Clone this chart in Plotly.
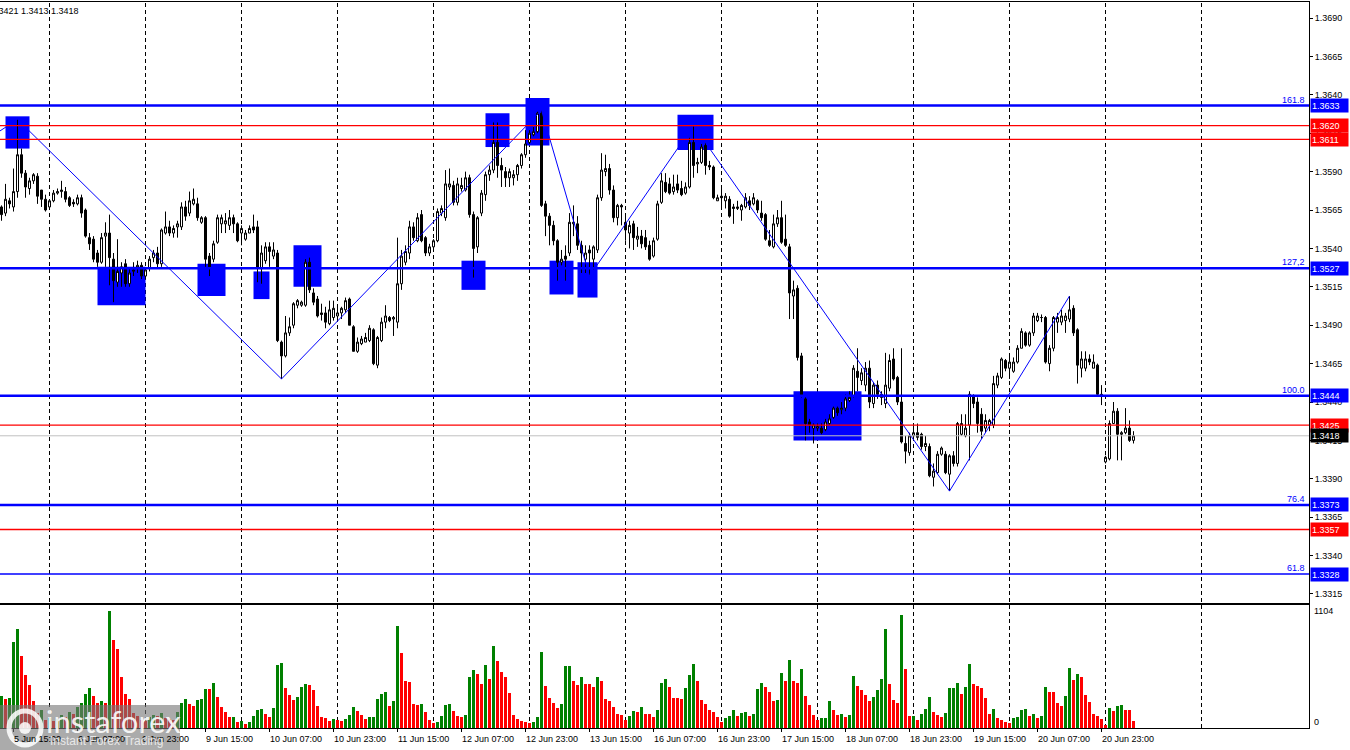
"""
GBPUSD H1 chart in MetaTrader style: candles, zigzag, Fibonacci levels,
support/resistance zones and a volumes sub-window.
"""

import plotly.graph_objects as go

# ---- H1 bars, 5 Jun 12:00 .. 23 Jun 07:00 (bar index 0..283) ----
opens = [
    1.3567, 1.3563, 1.3571, 1.3567, 1.3577, 1.3601, 1.3589, 1.3579, 1.3584, 1.3587,
    1.3578, 1.3572, 1.3567, 1.3571, 1.3576, 1.3577, 1.3577, 1.3573, 1.3570, 1.3569,
    1.3573, 1.3565, 1.3547, 1.3546, 1.3537, 1.3531, 1.3548, 1.3550, 1.3533, 1.3518,
    1.3524, 1.3530, 1.3517, 1.3525, 1.3527, 1.3529, 1.3522, 1.3527, 1.3534, 1.3537,
    1.3530, 1.3550, 1.3554, 1.3550, 1.3554, 1.3554, 1.3567, 1.3563, 1.3569, 1.3569,
    1.3557, 1.3560, 1.3535, 1.3533, 1.3544, 1.3556, 1.3556, 1.3555, 1.3560, 1.3556,
    1.3550, 1.3546, 1.3550, 1.3554, 1.3554, 1.3527, 1.3532, 1.3541, 1.3535, 1.3537,
    1.3479, 1.3470, 1.3485, 1.3490, 1.3503, 1.3503, 1.3503, 1.3531, 1.3511, 1.3507,
    1.3498, 1.3498, 1.3491, 1.3495, 1.3496, 1.3498, 1.3500, 1.3507, 1.3489, 1.3473,
    1.3478, 1.3479, 1.3480, 1.3487, 1.3464, 1.3480, 1.3492, 1.3495, 1.3494, 1.3492,
    1.3517, 1.3531, 1.3537, 1.3554, 1.3545, 1.3562, 1.3547, 1.3537, 1.3541, 1.3545,
    1.3563, 1.3560, 1.3580, 1.3581, 1.3570, 1.3579, 1.3578, 1.3586, 1.3562, 1.3541,
    1.3563, 1.3575, 1.3588, 1.3591, 1.3609, 1.3594, 1.3590, 1.3586, 1.3586, 1.3588,
    1.3594, 1.3601, 1.3609, 1.3614, 1.3616, 1.3628, 1.3569, 1.3561, 1.3555, 1.3545,
    1.3531, 1.3535, 1.3537, 1.3556, 1.3556, 1.3542, 1.3533, 1.3539, 1.3533, 1.3539,
    1.3573, 1.3590, 1.3592, 1.3578, 1.3560, 1.3568, 1.3557, 1.3550, 1.3556, 1.3546,
    1.3548, 1.3547, 1.3542, 1.3535, 1.3546, 1.3570, 1.3583, 1.3582, 1.3577, 1.3582,
    1.3579, 1.3576, 1.3580, 1.3609, 1.3595, 1.3596, 1.3607, 1.3594, 1.3593, 1.3571,
    1.3574, 1.3571, 1.3572, 1.3567, 1.3566, 1.3565, 1.3567, 1.3571, 1.3569, 1.3571,
    1.3563, 1.3562, 1.3545, 1.3541, 1.3556, 1.3560, 1.3546, 1.3541, 1.3509, 1.3514,
    1.3470, 1.3442, 1.3427, 1.3423, 1.3423, 1.3423, 1.3422, 1.3426, 1.3430, 1.3436,
    1.3435, 1.3436, 1.3441, 1.3444, 1.3460, 1.3454, 1.3451, 1.3462, 1.3439, 1.3451,
    1.3445, 1.3439, 1.3449, 1.3468, 1.3456, 1.3440, 1.3413, 1.3407, 1.3418, 1.3420,
    1.3419, 1.3411, 1.3411, 1.3391, 1.3394, 1.3406, 1.3406, 1.3393, 1.3405, 1.3400,
    1.3419, 1.3418, 1.3425, 1.3444, 1.3440, 1.3432, 1.3423, 1.3425, 1.3425, 1.3451,
    1.3456, 1.3467, 1.3462, 1.3460, 1.3466, 1.3475, 1.3485, 1.3477, 1.3485, 1.3493,
    1.3495, 1.3495, 1.3465, 1.3475, 1.3492, 1.3492, 1.3493, 1.3494, 1.3501, 1.3487,
    1.3462, 1.3462, 1.3468, 1.3462, 1.3464, 1.3444, 1.3401, 1.3403, 1.3426, 1.3434,
    1.3419, 1.3420, 1.3423, 1.3415,
]
highs = [
    1.3568, 1.3582, 1.3573, 1.3592, 1.3624, 1.3605, 1.3591, 1.3586, 1.3589, 1.3589,
    1.3578, 1.3575, 1.3571, 1.3578, 1.3579, 1.3584, 1.3580, 1.3574, 1.3572, 1.3575,
    1.3575, 1.3566, 1.3550, 1.3548, 1.3539, 1.3550, 1.3557, 1.3562, 1.3537, 1.3546,
    1.3531, 1.3533, 1.3527, 1.3531, 1.3532, 1.3531, 1.3527, 1.3535, 1.3539, 1.3541,
    1.3553, 1.3564, 1.3558, 1.3555, 1.3558, 1.3570, 1.3571, 1.3577, 1.3579, 1.3573,
    1.3561, 1.3561, 1.3537, 1.3545, 1.3562, 1.3562, 1.3563, 1.3565, 1.3562, 1.3557,
    1.3555, 1.3552, 1.3555, 1.3562, 1.3558, 1.3542, 1.3544, 1.3544, 1.3544, 1.3539,
    1.3480, 1.3496, 1.3495, 1.3505, 1.3507, 1.3506, 1.3533, 1.3534, 1.3514, 1.3509,
    1.3504, 1.3502, 1.3506, 1.3506, 1.3503, 1.3502, 1.3508, 1.3508, 1.3490, 1.3482,
    1.3483, 1.3485, 1.3490, 1.3488, 1.3483, 1.3495, 1.3503, 1.3496, 1.3496, 1.3547,
    1.3539, 1.3542, 1.3558, 1.3557, 1.3563, 1.3565, 1.3548, 1.3543, 1.3546, 1.3566,
    1.3568, 1.3591, 1.3592, 1.3584, 1.3586, 1.3586, 1.3590, 1.3588, 1.3564, 1.3561,
    1.3578, 1.3590, 1.3594, 1.3622, 1.3622, 1.3599, 1.3593, 1.3592, 1.3591, 1.3595,
    1.3602, 1.3617, 1.3617, 1.3619, 1.3629, 1.3630, 1.3571, 1.3563, 1.3558, 1.3546,
    1.3539, 1.3542, 1.3563, 1.3568, 1.3561, 1.3545, 1.3542, 1.3542, 1.3542, 1.3575,
    1.3602, 1.3601, 1.3595, 1.3581, 1.3569, 1.3569, 1.3561, 1.3558, 1.3558, 1.3554,
    1.3552, 1.3552, 1.3545, 1.3547, 1.3571, 1.3589, 1.3589, 1.3586, 1.3588, 1.3588,
    1.3584, 1.3583, 1.3612, 1.3620, 1.3599, 1.3608, 1.3609, 1.3597, 1.3594, 1.3575,
    1.3579, 1.3576, 1.3574, 1.3569, 1.3571, 1.3569, 1.3576, 1.3574, 1.3576, 1.3572,
    1.3571, 1.3563, 1.3552, 1.3562, 1.3565, 1.3571, 1.3562, 1.3543, 1.3519, 1.3516,
    1.3472, 1.3443, 1.3429, 1.3426, 1.3426, 1.3426, 1.3429, 1.3432, 1.3437, 1.3437,
    1.3440, 1.3445, 1.3447, 1.3464, 1.3475, 1.3462, 1.3466, 1.3467, 1.3453, 1.3454,
    1.3447, 1.3472, 1.3471, 1.3475, 1.3457, 1.3475, 1.3418, 1.3420, 1.3426, 1.3426,
    1.3420, 1.3418, 1.3413, 1.3400, 1.3408, 1.3411, 1.3408, 1.3406, 1.3408, 1.3427,
    1.3432, 1.3432, 1.3447, 1.3445, 1.3443, 1.3436, 1.3432, 1.3429, 1.3457, 1.3459,
    1.3469, 1.3468, 1.3470, 1.3469, 1.3477, 1.3488, 1.3486, 1.3486, 1.3498, 1.3498,
    1.3497, 1.3496, 1.3477, 1.3496, 1.3498, 1.3500, 1.3498, 1.3509, 1.3503, 1.3488,
    1.3473, 1.3473, 1.3471, 1.3471, 1.3465, 1.3451, 1.3405, 1.3428, 1.3440, 1.3436,
    1.3421, 1.3436, 1.3428, 1.3421,
]
lows = [
    1.3558, 1.3561, 1.3566, 1.3564, 1.3573, 1.3586, 1.3573, 1.3575, 1.3582, 1.3569,
    1.3567, 1.3564, 1.3565, 1.3570, 1.3575, 1.3573, 1.3570, 1.3567, 1.3567, 1.3568,
    1.3560, 1.3547, 1.3539, 1.3531, 1.3528, 1.3530, 1.3528, 1.3516, 1.3505, 1.3515,
    1.3515, 1.3515, 1.3515, 1.3522, 1.3524, 1.3520, 1.3520, 1.3525, 1.3531, 1.3527,
    1.3528, 1.3549, 1.3548, 1.3547, 1.3547, 1.3552, 1.3558, 1.3561, 1.3568, 1.3558,
    1.3556, 1.3528, 1.3522, 1.3531, 1.3543, 1.3550, 1.3550, 1.3552, 1.3550, 1.3544,
    1.3542, 1.3545, 1.3550, 1.3550, 1.3518, 1.3517, 1.3530, 1.3528, 1.3533, 1.3479,
    1.3455, 1.3469, 1.3483, 1.3488, 1.3501, 1.3502, 1.3502, 1.3511, 1.3503, 1.3495,
    1.3493, 1.3488, 1.3490, 1.3493, 1.3494, 1.3494, 1.3498, 1.3490, 1.3473, 1.3472,
    1.3477, 1.3479, 1.3479, 1.3464, 1.3462, 1.3479, 1.3488, 1.3492, 1.3483, 1.3488,
    1.3513, 1.3529, 1.3533, 1.3545, 1.3544, 1.3544, 1.3535, 1.3535, 1.3539, 1.3544,
    1.3561, 1.3558, 1.3578, 1.3568, 1.3568, 1.3577, 1.3577, 1.3560, 1.3521, 1.3537,
    1.3561, 1.3571, 1.3584, 1.3589, 1.3586, 1.3580, 1.3580, 1.3580, 1.3581, 1.3584,
    1.3592, 1.3599, 1.3608, 1.3613, 1.3615, 1.3567, 1.3548, 1.3542, 1.3542, 1.3519,
    1.3529, 1.3519, 1.3535, 1.3548, 1.3539, 1.3524, 1.3524, 1.3522, 1.3526, 1.3537,
    1.3571, 1.3587, 1.3575, 1.3557, 1.3555, 1.3555, 1.3545, 1.3540, 1.3539, 1.3541,
    1.3540, 1.3539, 1.3532, 1.3534, 1.3545, 1.3569, 1.3576, 1.3575, 1.3575, 1.3576,
    1.3574, 1.3575, 1.3579, 1.3586, 1.3589, 1.3595, 1.3588, 1.3591, 1.3572, 1.3571,
    1.3567, 1.3566, 1.3560, 1.3556, 1.3565, 1.3558, 1.3566, 1.3565, 1.3568, 1.3563,
    1.3558, 1.3545, 1.3541, 1.3540, 1.3554, 1.3543, 1.3541, 1.3494, 1.3494, 1.3467,
    1.3443, 1.3415, 1.3420, 1.3413, 1.3421, 1.3419, 1.3421, 1.3425, 1.3429, 1.3431,
    1.3432, 1.3434, 1.3440, 1.3443, 1.3447, 1.3451, 1.3447, 1.3436, 1.3436, 1.3442,
    1.3438, 1.3436, 1.3447, 1.3454, 1.3438, 1.3413, 1.3400, 1.3405, 1.3415, 1.3415,
    1.3409, 1.3408, 1.3391, 1.3385, 1.3393, 1.3405, 1.3393, 1.3382, 1.3398, 1.3398,
    1.3418, 1.3417, 1.3402, 1.3436, 1.3420, 1.3416, 1.3420, 1.3421, 1.3423, 1.3449,
    1.3455, 1.3460, 1.3455, 1.3459, 1.3465, 1.3475, 1.3476, 1.3476, 1.3483, 1.3492,
    1.3492, 1.3465, 1.3460, 1.3473, 1.3485, 1.3490, 1.3485, 1.3492, 1.3483, 1.3452,
    1.3456, 1.3460, 1.3464, 1.3462, 1.3444, 1.3438, 1.3400, 1.3402, 1.3426, 1.3402,
    1.3402, 1.3419, 1.3414, 1.3413,
]
closes = [
    1.3562, 1.3572, 1.3569, 1.3577, 1.3601, 1.3589, 1.3580, 1.3584, 1.3588, 1.3574,
    1.3572, 1.3565, 1.3571, 1.3576, 1.3577, 1.3578, 1.3572, 1.3568, 1.3569, 1.3573,
    1.3563, 1.3548, 1.3543, 1.3533, 1.3531, 1.3547, 1.3550, 1.3534, 1.3519, 1.3525,
    1.3528, 1.3517, 1.3524, 1.3526, 1.3529, 1.3522, 1.3526, 1.3533, 1.3537, 1.3530,
    1.3552, 1.3554, 1.3550, 1.3553, 1.3556, 1.3567, 1.3561, 1.3571, 1.3572, 1.3560,
    1.3560, 1.3533, 1.3528, 1.3543, 1.3560, 1.3560, 1.3558, 1.3560, 1.3556, 1.3545,
    1.3553, 1.3550, 1.3553, 1.3552, 1.3527, 1.3537, 1.3541, 1.3538, 1.3539, 1.3480,
    1.3470, 1.3485, 1.3489, 1.3504, 1.3506, 1.3505, 1.3531, 1.3513, 1.3505, 1.3496,
    1.3497, 1.3492, 1.3500, 1.3501, 1.3498, 1.3501, 1.3506, 1.3490, 1.3473, 1.3479,
    1.3481, 1.3482, 1.3488, 1.3465, 1.3482, 1.3492, 1.3496, 1.3493, 1.3495, 1.3517,
    1.3535, 1.3538, 1.3554, 1.3547, 1.3560, 1.3545, 1.3537, 1.3541, 1.3545, 1.3564,
    1.3566, 1.3582, 1.3582, 1.3570, 1.3582, 1.3581, 1.3586, 1.3562, 1.3540, 1.3560,
    1.3576, 1.3588, 1.3591, 1.3609, 1.3594, 1.3591, 1.3586, 1.3590, 1.3588, 1.3594,
    1.3601, 1.3608, 1.3615, 1.3616, 1.3628, 1.3568, 1.3561, 1.3555, 1.3545, 1.3531,
    1.3533, 1.3533, 1.3557, 1.3557, 1.3542, 1.3537, 1.3537, 1.3537, 1.3541, 1.3573,
    1.3591, 1.3592, 1.3578, 1.3560, 1.3568, 1.3567, 1.3552, 1.3555, 1.3547, 1.3548,
    1.3543, 1.3541, 1.3533, 1.3545, 1.3569, 1.3584, 1.3577, 1.3576, 1.3580, 1.3578,
    1.3575, 1.3580, 1.3609, 1.3594, 1.3596, 1.3606, 1.3594, 1.3593, 1.3573, 1.3573,
    1.3573, 1.3574, 1.3561, 1.3566, 1.3567, 1.3568, 1.3573, 1.3568, 1.3573, 1.3565,
    1.3560, 1.3546, 1.3542, 1.3556, 1.3560, 1.3544, 1.3542, 1.3511, 1.3513, 1.3469,
    1.3444, 1.3426, 1.3425, 1.3425, 1.3424, 1.3420, 1.3427, 1.3429, 1.3436, 1.3433,
    1.3436, 1.3442, 1.3443, 1.3462, 1.3456, 1.3459, 1.3462, 1.3440, 1.3451, 1.3445,
    1.3443, 1.3451, 1.3467, 1.3455, 1.3440, 1.3414, 1.3408, 1.3418, 1.3420, 1.3417,
    1.3411, 1.3413, 1.3392, 1.3395, 1.3406, 1.3410, 1.3394, 1.3405, 1.3400, 1.3426,
    1.3426, 1.3423, 1.3445, 1.3439, 1.3426, 1.3421, 1.3428, 1.3428, 1.3452, 1.3457,
    1.3468, 1.3462, 1.3466, 1.3466, 1.3475, 1.3486, 1.3477, 1.3485, 1.3496, 1.3496,
    1.3495, 1.3466, 1.3475, 1.3495, 1.3495, 1.3496, 1.3496, 1.3500, 1.3485, 1.3464,
    1.3468, 1.3468, 1.3466, 1.3466, 1.3445, 1.3445, 1.3404, 1.3426, 1.3434, 1.3419,
    1.3420, 1.3423, 1.3415, 1.3418,
]
volumes = [
    305, 277, 283, 808, 937, 683, 503, 409, 252, 142,
    173, 79, 95, 70, 85, 120, 100, 150, 130, 200,
    240, 324, 381, 299, 236, 252, 236, 1104, 827, 749,
    484, 324, 274, 142, 110, 79, 62, 100, 125, 110,
    142, 94, 85, 80, 150, 236, 277, 230, 211, 260,
    277, 371, 365, 428, 296, 201, 154, 101, 104, 60,
    69, 41, 57, 116, 173, 182, 135, 107, 192, 591,
    610, 381, 315, 267, 296, 390, 418, 409, 362, 211,
    107, 98, 69, 88, 75, 69, 85, 126, 198, 157,
    126, 88, 101, 104, 277, 324, 343, 211, 258, 966,
    711, 440, 438, 230, 220, 222, 148, 79, 47, 60,
    110, 220, 222, 157, 110, 101, 126, 478, 544, 513,
    418, 598, 466, 771, 629, 525, 478, 333, 126, 88,
    69, 53, 50, 56, 101, 720, 400, 280, 236, 186,
    230, 582, 588, 440, 409, 484, 418, 416, 390, 484,
    447, 277, 258, 201, 135, 126, 79, 110, 164, 154,
    201, 135, 133, 107, 173, 428, 466, 390, 286, 280,
    278, 381, 503, 607, 447, 267, 230, 173, 154, 101,
    60, 98, 116, 173, 116, 145, 154, 116, 135, 371,
    428, 384, 343, 258, 267, 522, 447, 645, 447, 428,
    560, 305, 220, 126, 72, 91, 98, 258, 173, 126,
    135, 107, 126, 494, 400, 362, 315, 258, 296, 362,
    466, 937, 418, 267, 239, 1070, 560, 110, 116, 72,
    135, 182, 296, 154, 126, 101, 145, 374, 381, 428,
    324, 390, 607, 418, 400, 381, 286, 135, 182, 98,
    79, 60, 50, 91, 107, 173, 175, 116, 135, 98,
    116, 390, 343, 340, 239, 211, 305, 569, 456, 513,
    484, 315, 249, 135, 116, 88, 31, 192, 164, 211,
    220, 173, 172, 69,
]

# zigzag vertices (bar index, price)
zigzag_bars = [-3, 4, 70, 135, 147, 173, 237, 267]
zigzag_prices = [1.3612, 1.3624, 1.3455, 1.3630, 1.3522, 1.3620, 1.3382, 1.3509]

# blue zones: first bar, last bar, top price, bottom price
zone_start = [1, 24, 49, 63, 73, 115, 121, 131, 137, 144, 169, 198]
zone_end = [7, 36, 56, 67, 80, 121, 127, 137, 143, 149, 178, 215]
zone_top = [1.3626, 1.3528, 1.3530, 1.3525, 1.3542, 1.3532, 1.3628, 1.3638, 1.3532, 1.3531, 1.3627, 1.3447]
zone_bottom = [1.3605, 1.3503, 1.3509, 1.3507, 1.3515, 1.3513, 1.3606, 1.3607, 1.3510, 1.3508, 1.3604, 1.3415]

fib_levels = [1.3633, 1.3527, 1.3444, 1.3373, 1.3328]
fib_names = ["161.8", "127,2", "100.0", "76.4", "61.8"]
red_levels = [1.3620, 1.3611, 1.3425, 1.3357]
last_price = 1.3418

price_ticks = [1.3315, 1.3340, 1.3365, 1.3390, 1.3415, 1.3440, 1.3465, 1.3490,
               1.3515, 1.3540, 1.3565, 1.3590, 1.3615, 1.3640, 1.3665, 1.3690]
day_starts = [12, 36, 60, 84, 108, 132, 156, 180, 204, 228, 252, 276, 300]
time_label_bars = [3, 19, 35, 51, 67, 83, 99, 115, 131, 147, 163, 179, 195, 211, 227, 243, 259, 275]
time_labels = ["5 Jun 15:00", "6 Jun 07:00", "6 Jun 23:00", "9 Jun 15:00", "10 Jun 07:00",
               "10 Jun 23:00", "11 Jun 15:00", "12 Jun 07:00", "12 Jun 23:00", "13 Jun 15:00",
               "16 Jun 07:00", "16 Jun 23:00", "17 Jun 15:00", "18 Jun 07:00", "18 Jun 23:00",
               "19 Jun 15:00", "20 Jun 07:00", "20 Jun 23:00"]
volume_max = 1104

FONT = "Liberation Sans"
FS = 9
BLUE = "#0000FF"
RED = "#FF0000"
GREEN = "#008000"

# plot area spans pixels x 0..1309, y 2..728 of the 1350x750 page
def px_x(p):
    return p / 1309


def px_y(p):
    return (728 - p) / 726


bars = list(range(len(opens)))
vol_colors = [GREEN if i == 0 or volumes[i] > volumes[i - 1] else RED for i in bars]

fig = go.Figure()
fig.add_trace(go.Candlestick(
    x=bars, open=opens, high=highs, low=lows, close=closes,
    increasing=dict(fillcolor="white", line=dict(color="black", width=1)),
    decreasing=dict(fillcolor="black", line=dict(color="black", width=1)),
    whiskerwidth=0, hoverinfo="skip", xaxis="x", yaxis="y",
))
fig.add_trace(go.Scatter(
    x=zigzag_bars, y=zigzag_prices, mode="lines",
    line=dict(color=BLUE, width=1), hoverinfo="skip", xaxis="x", yaxis="y",
))
fig.add_trace(go.Bar(
    x=bars, y=volumes, marker=dict(color=vol_colors, line=dict(width=0)),
    width=0.75, hoverinfo="skip", xaxis="x2", yaxis="y2",
))

# day separators
for d in day_starts:
    fig.add_shape(type="line", xref="x", yref="paper", x0=d, x1=d, y0=0, y1=1,
                  line=dict(color="black", width=1, dash="4px,3px"), layer="below")

# zones
for s, e, t, b in zip(zone_start, zone_end, zone_top, zone_bottom):
    fig.add_shape(type="rect", xref="x", yref="y", x0=s, x1=e, y0=b, y1=t,
                  fillcolor=BLUE, line=dict(width=0), layer="below")

# horizontal levels
fig.add_shape(type="line", xref="paper", yref="y", x0=0, x1=1, y0=last_price, y1=last_price,
              line=dict(color="#C0C0C0", width=1), layer="above")
for lv in red_levels:
    fig.add_shape(type="line", xref="paper", yref="y", x0=0, x1=1, y0=lv, y1=lv,
                  line=dict(color=RED, width=1.3), layer="above")
for lv in fib_levels:
    w = 1.3 if lv == fib_levels[-1] else 2.5
    fig.add_shape(type="line", xref="paper", yref="y", x0=0, x1=1, y0=lv, y1=lv,
                  line=dict(color=BLUE, width=w), layer="above")

annotations = []


def price_tag(price, color):
    return dict(x=1, xref="paper", xanchor="left", xshift=1, y=price, yref="y",
                yanchor="middle", text=f"{price:.4f}", showarrow=False, bgcolor=color,
                font=dict(color="white", size=FS, family=FONT), width=35, height=11,
                borderpad=1, align="left")


for lv, name in zip(fib_levels, fib_names):
    annotations.append(dict(x=px_x(1307), xref="paper", xanchor="right", y=lv, yref="y",
                            yanchor="bottom", yshift=-1, text=name, showarrow=False,
                            font=dict(color=BLUE, size=FS, family=FONT)))
    annotations.append(price_tag(lv, BLUE))
for lv in red_levels:
    annotations.append(price_tag(lv, RED))
annotations.append(price_tag(last_price, "black"))

for b, txt in zip(time_label_bars, time_labels):
    annotations.append(dict(x=b, xref="x2", xanchor="left", xshift=-2, y=px_y(739), yref="paper",
                            yanchor="middle", text=txt, showarrow=False,
                            font=dict(color="black", size=FS, family=FONT)))

# volume scale labels
annotations.append(dict(x=1, xref="paper", xanchor="left", xshift=3, y=volume_max, yref="y2",
                        yanchor="middle", text=str(volume_max), showarrow=False,
                        font=dict(color="black", size=FS, family=FONT)))
annotations.append(dict(x=1, xref="paper", xanchor="left", xshift=3, y=px_y(722), yref="paper",
                        yanchor="middle", text="0", showarrow=False,
                        font=dict(color="black", size=FS, family=FONT)))

# header (partly cut at the left edge, as in the terminal)
annotations.append(dict(x=px_x(81), xref="paper", xanchor="right", y=px_y(11), yref="paper",
                        yanchor="middle", text="1.3421 1.3413 1.3418", showarrow=False,
                        font=dict(color="black", size=FS, family=FONT)))

# watermark
fig.add_shape(type="rect", xref="paper", yref="paper", x0=0, x1=px_x(180), y0=px_y(752), y1=px_y(705),
              fillcolor="rgba(120,120,120,0.62)", line=dict(width=0), layer="above")
fig.add_shape(type="circle", xref="paper", yref="paper", x0=px_x(9), x1=px_x(41), y0=px_y(745), y1=px_y(711),
              line=dict(color="rgba(255,255,255,0.85)", width=5), layer="above")
fig.add_shape(type="circle", xref="paper", yref="paper", x0=px_x(19), x1=px_x(31), y0=px_y(734), y1=px_y(722),
              fillcolor="rgba(255,255,255,0.85)", line=dict(width=0), layer="above")
annotations.append(dict(x=px_x(44), xref="paper", xanchor="left", y=px_y(721), yref="paper",
                        yanchor="middle", text="instaforex", showarrow=False,
                        font=dict(color="rgba(255,255,255,0.9)", size=31, family="Lato")))
annotations.append(dict(x=px_x(48), xref="paper", xanchor="left", y=px_y(741), yref="paper",
                        yanchor="middle", text="Instant Forex Trading", showarrow=False,
                        font=dict(color="rgba(240,240,240,0.9)", size=12, family=FONT)))

x_range = [-0.375, 326.875]
fig.update_layout(
    width=1350, height=750,
    margin=dict(l=0, r=41, t=2, b=22),
    paper_bgcolor="white", plot_bgcolor="white",
    showlegend=False, boxgap=0.5, boxgroupgap=0, bargap=0,
    font=dict(family=FONT, size=FS, color="black"),
    annotations=annotations,
    xaxis=dict(domain=[0, 1], anchor="y", range=x_range, showgrid=False, zeroline=False,
               showticklabels=False, ticks="", showline=True, mirror=True, linecolor="black",
               linewidth=1, rangeslider=dict(visible=False)),
    yaxis=dict(domain=[px_y(603), 1], anchor="x", side="right", range=[1.330913, 1.370043],
               tickvals=price_ticks, ticktext=[f"{t:.4f}" for t in price_ticks],
               ticks="outside", ticklen=3, tickcolor="black", showgrid=False, zeroline=False,
               showline=True, linecolor="black", linewidth=1,
               tickfont=dict(size=FS, family=FONT, color="black")),
    xaxis2=dict(domain=[0, 1], anchor="y2", range=x_range, showgrid=False, zeroline=False,
                showticklabels=False, tickvals=time_label_bars, ticks="outside", ticklen=3,
                tickcolor="black", showline=True, mirror=True, linecolor="black", linewidth=1),
    yaxis2=dict(domain=[0, px_y(605)], anchor="x2", side="right", range=[0, 1160.6],
                showgrid=False, zeroline=False, showticklabels=False, ticks="",
                showline=True, linecolor="black", linewidth=1),
)

# the page itself must not add a margin around the chart
fig.write_html("out.html", config={"displayModeBar": False},
               post_script="document.body.style.margin='0';")
